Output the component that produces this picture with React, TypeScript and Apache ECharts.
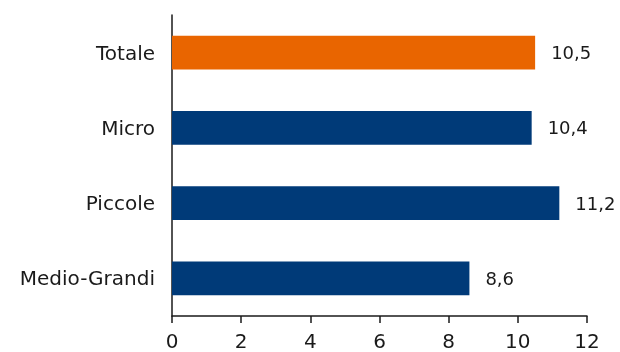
import React, { useEffect, useRef } from "react";
import * as echarts from "echarts";

const categories = ["Medio-Grandi", "Piccole", "Micro", "Totale"];
const values = [8.6, 11.2, 10.4, 10.5];
const barColors = ["#003A78", "#003A78", "#003A78", "#E96500"];
const xTicks = { min: 0, max: 12, interval: 2 };

const FONT = "DejaVu Sans";
const INK = "#1a1a1a";

export default function App() {
  const ref = useRef<HTMLDivElement>(null);

  useEffect(() => {
    if (!ref.current) return;
    const chart = echarts.init(ref.current, undefined, { renderer: "svg" });
    chart.setOption({
      animation: false,
      grid: { left: 172, right: 33, top: 15, bottom: 36 },
      xAxis: {
        type: "value",
        min: xTicks.min,
        max: xTicks.max,
        interval: xTicks.interval,
        splitLine: { show: false },
        axisLine: { show: true, lineStyle: { color: INK, width: 1.5 } },
        axisTick: { show: true, length: 7, lineStyle: { color: INK, width: 1.5 } },
        axisLabel: { color: INK, fontSize: 20, fontFamily: FONT, margin: 15 },
      },
      yAxis: {
        type: "category",
        data: categories,
        axisLine: { show: true, lineStyle: { color: INK, width: 1.5 } },
        axisTick: { show: false },
        axisLabel: { color: INK, fontSize: 20, fontFamily: FONT, margin: 17 },
      },
      series: [
        {
          type: "bar",
          barWidth: "45%",
          data: values.map((v, i) => ({ value: v, itemStyle: { color: barColors[i] } })),
          label: {
            show: true,
            position: "right",
            distance: 16,
            color: INK,
            fontSize: 18,
            fontFamily: FONT,
            formatter: (p: any) => String(p.value).replace(".", ","),
          },
        },
      ],
    });
    return () => chart.dispose();
  }, []);

  return (
    <div
      ref={ref}
      style={{ position: "fixed", left: 0, top: 0, width: 620, height: 352 }}
    />
  );
}
